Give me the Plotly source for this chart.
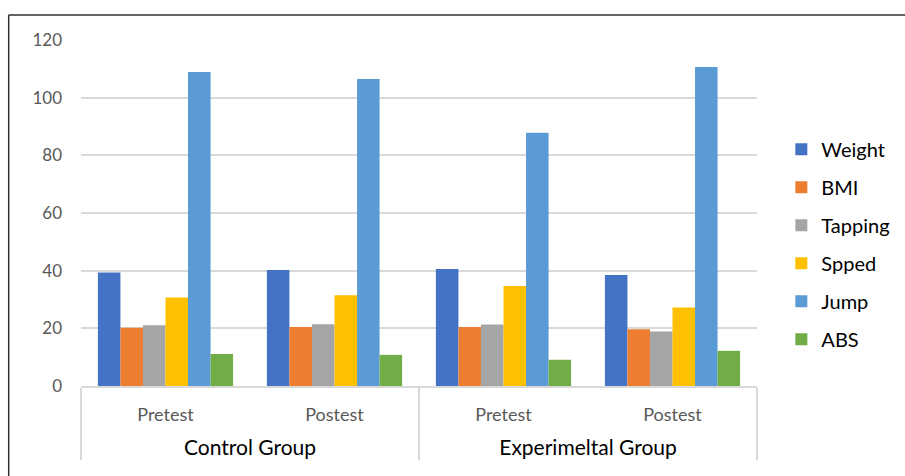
import plotly.graph_objects as go

# Groups and test phases
groups = ["Control Group", "Control Group", "Experimeltal Group", "Experimeltal Group"]
phases = ["Pretest", "Postest", "Pretest", "Postest"]

# Measured variables (one bar series each)
weight = [39.4, 40.2, 40.6, 38.5]
bmi = [20.2, 20.5, 20.5, 19.7]
tapping = [21.1, 21.4, 21.3, 18.9]
spped = [30.7, 31.5, 34.7, 27.2]
jump = [108.9, 106.5, 87.8, 110.6]
abs_ = [11.1, 10.8, 9.1, 12.2]

series_names = ["Weight", "BMI", "Tapping", "Spped", "Jump", "ABS"]
series_values = [weight, bmi, tapping, spped, jump, abs_]
series_colors = ["#4472C4", "#ED7D31", "#A5A5A5", "#FFC000", "#5B9BD5", "#70AD47"]

y_ticks = [0, 20, 40, 60, 80, 100, 120]

FONT = "Lato"

# outer level labels (larger, black); inner labels get a spacer line below
group_labels = [f"<span style='font-size:21px;color:#000000'>{g}</span>" for g in groups]
phase_labels = [f"{p}<br><span style='font-size:9px'> </span>" for p in phases]

fig = go.Figure()
for i, (name, vals, col) in enumerate(zip(series_names, series_values, series_colors)):
    fig.add_trace(go.Bar(
        x=[group_labels, phase_labels],
        y=vals,
        name=name,
        marker=dict(color=col, line=dict(width=0)),
        legendgroup=f"g{i}",
    ))

# Plot area: x 81..757, y 40..386 in a 905x476 page
L, R, T, B = 81, 148, 40, 90
W, H = 905, 476
pw, ph = W - L - R, H - T - B

def px_x(p):
    return (p - L) / pw

def px_y(p):
    return (H - B - p) / ph

fig.update_layout(
    width=W, height=H,
    margin=dict(l=L, r=R, t=T, b=B, pad=0, autoexpand=False),
    paper_bgcolor="white",
    plot_bgcolor="white",
    barmode="group",
    bargap=0.2,
    bargroupgap=0,
    font=dict(family=FONT, color="#595959"),
    showlegend=True,
    legend=dict(
        x=1.036, xanchor="left", y=0.41, yanchor="middle",
        font=dict(size=20, color="#000000", family=FONT),
        tracegroupgap=9,
        bgcolor="rgba(0,0,0,0)",
        itemclick=False,
    ),
    xaxis=dict(
        type="multicategory",
        automargin=False,
        showline=True, linecolor="#D9D9D9", linewidth=1.5,
        showgrid=False,
        ticks="", showdividers=True, dividercolor="#D9D9D9", dividerwidth=1.5,
        ticklabelstandoff=12,
        tickfont=dict(size=18, color="#595959", family=FONT),
    ),
    yaxis=dict(
        automargin=False,
        range=[0, 120],
        tickvals=y_ticks,
        showgrid=True, gridcolor="#D9D9D9", gridwidth=1.5,
        zeroline=False, showline=False,
        ticks="", ticklabelstandoff=18,
        tickfont=dict(size=17, color="#595959", family=FONT),
    ),
    shapes=[
        # frame around the chart (top and left edges)
        dict(type="line", xref="paper", yref="paper",
             x0=px_x(8.7), x1=px_x(910), y0=px_y(15), y1=px_y(15),
             line=dict(color="#303030", width=1.5)),
        dict(type="line", xref="paper", yref="paper",
             x0=px_x(8.7), x1=px_x(8.7), y0=px_y(15), y1=px_y(480),
             line=dict(color="#303030", width=1.5)),
    ],
)

fig.write_html("out.html")
